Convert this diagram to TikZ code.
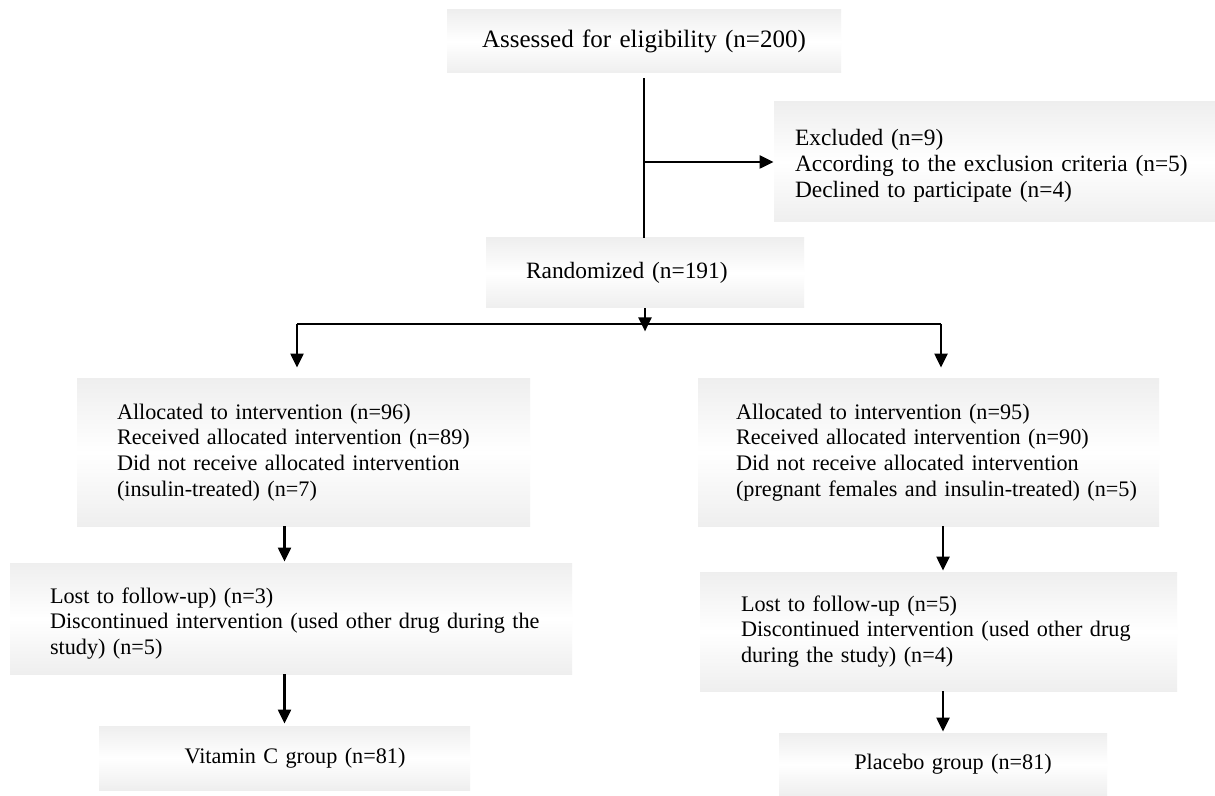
\documentclass[tikz,border=0pt]{standalone}
\usepackage{fontspec}
\setmainfont{Liberation Serif}
\usetikzlibrary{arrows.meta,calc}
\begin{document}
\begin{tikzpicture}[x=0.5pt,y=-0.5pt,
  box/.style={rectangle, draw=none, top color=gray!13, bottom color=gray!13, middle color=white,
    inner ysep=0pt, align=left, font=\fontsize{11.1pt}{12.85pt}\selectfont},
  bigtext/.style={font=\fontsize{11.7pt}{12.85pt}\selectfont},
  conn/.style={line width=1.1pt, black},
  arr/.style={conn, -{Triangle[length=7pt,width=6.5pt]}}]
\useasboundingbox (0,0) rectangle (1215,796);
\fill[white] (0,0) rectangle (1215,796);

% boxes (centre in px, sizes in pt)
\node[box, align=center, minimum width=197pt, minimum height=31.5pt, text width=180pt, inner xsep=8.5pt,
  font=\fontsize{12.5pt}{13.7pt}\selectfont] (top) at (644,41.5) {\mbox{Assessed for eligibility (n=200)}};
\node[box, bigtext, minimum width=220.5pt, minimum height=60pt, text width=199.5pt, inner xsep=10.5pt] (excl) at (994.5,162)
  {\mbox{\rule{0pt}{12.1pt}Excluded (n=9)}\\\mbox{According to the exclusion criteria (n=5)}\\\mbox{Declined to participate (n=4)}};
\node[box, bigtext, minimum width=159pt, minimum height=35pt, text width=119pt, inner xsep=20pt] (rand) at (645,273)
  {\mbox{Randomized (n=191)}};
\node[box, minimum width=226.5pt, minimum height=73.5pt, text width=186.5pt, inner xsep=20pt] (L1) at (303.5,452.5)
  {\mbox{Allocated to intervention (n=96)}\\\mbox{Received allocated intervention (n=89)}\\\mbox{Did not receive allocated intervention}\\\mbox{(insulin-treated) (n=7)}};
\node[box, minimum width=230.5pt, minimum height=73.5pt, text width=192.5pt, inner xsep=19pt] (R1) at (928.5,452.5)
  {\mbox{Allocated to intervention (n=95)}\\\mbox{Received allocated intervention (n=90)}\\\mbox{Did not receive allocated intervention}\\\mbox{(pregnant females and insulin-treated) (n=5)}};
\node[box, minimum width=281pt, minimum height=55.5pt, text width=241pt, inner xsep=20pt] (L2) at (291,618.5)
  {\mbox{\rule{0pt}{12.7pt}Lost to follow-up) (n=3)}\\\mbox{Discontinued intervention (used other drug during the}\\\mbox{study) (n=5)}};
\node[box, minimum width=238.5pt, minimum height=59.5pt, text width=197.5pt, inner xsep=20.5pt] (R2) at (938.5,631.5)
  {\mbox{Lost to follow-up (n=5)}\\\mbox{Discontinued intervention (used other drug}\\\mbox{during the study) (n=4)}};
\node[box, align=center, minimum width=185.5pt, minimum height=32pt, text width=160pt, inner xsep=12.75pt] (L3) at (284.5,758)
  {\mbox{\hspace*{10.5pt}Vitamin C group (n=81)}};
\node[box, align=center, minimum width=164pt, minimum height=31.5pt, text width=140pt, inner xsep=12pt] (R3) at (943,764.5)
  {\mbox{\hspace*{10pt}Placebo group (n=81)}};

% connectors
\draw[conn, shorten <=2.5pt] (top.south) -- (top.south |- rand.north);
\draw[arr] (top.south |- excl.west) -- (excl.west);
\coordinate (bl) at (297,324);
\coordinate (brr) at (941,324);
\draw[arr] (rand.south) -- ($(rand.south)+(0,23)$);
\draw[conn] (bl) -- (brr);
\draw[arr, shorten >=5.5pt] (bl) -- (bl |- L1.north);
\draw[arr, shorten >=5.5pt] (brr) -- (brr |- R1.north);
\draw[arr, shorten >=0.5pt] (L1.south -| L3.north) -- (L2.north -| L3.north);
\draw[arr, shorten >=1pt] (L2.south -| L3.north) -- (L3.north);
\draw[arr, shorten >=0.5pt] (R1.south -| R3.north) -- (R2.north -| R3.north);
\draw[arr, shorten >=0.5pt] (R2.south -| R3.north) -- (R3.north);
\end{tikzpicture}
\end{document}
